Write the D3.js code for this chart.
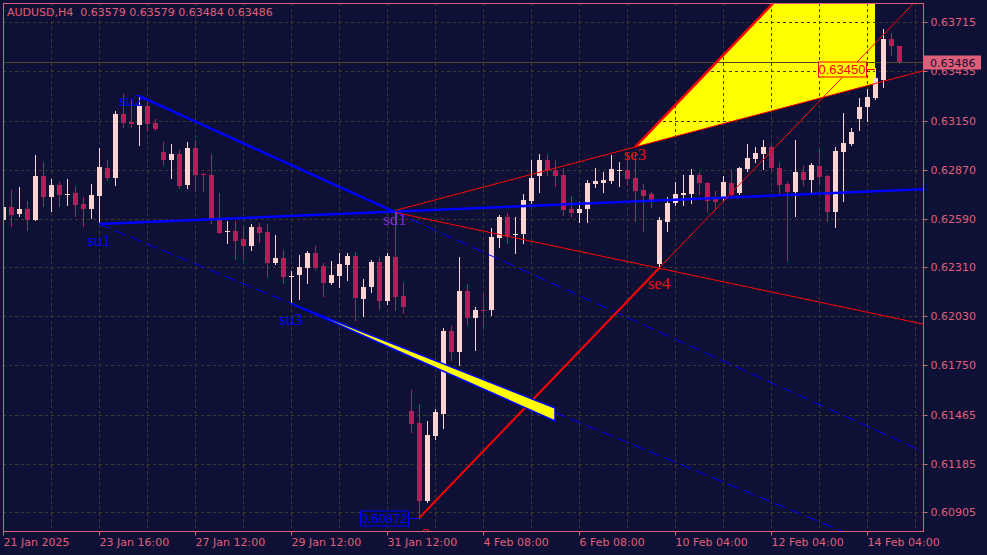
<!DOCTYPE html>
<html><head><meta charset="utf-8">
<script src="https://cdn.jsdelivr.net/npm/d3@7/dist/d3.min.js"></script>
<style>body{margin:0;background:#0e1036;}svg{display:block}</style>
</head><body>
<svg id="c" width="987" height="555"></svg>
<script>
// ---------------- DATA ----------------
const chartTitle = "AUDUSD,H4  0.63579 0.63579 0.63484 0.63486";
const timeLabels = ["21 Jan 2025","23 Jan 16:00","27 Jan 12:00","29 Jan 12:00","31 Jan 12:00","4 Feb 08:00","6 Feb 08:00","10 Feb 04:00","12 Feb 04:00","14 Feb 04:00"];
const timeLabelBars = [0,12,24,36,48,60,72,84,96,108];
const priceTicks = [0.63715,0.63435,0.63150,0.62870,0.62590,0.62310,0.62030,0.61750,0.61465,0.61185,0.60905];
const lastPrice = 0.63486;

const opens = [0.62581,0.62656,0.62616,0.62644,0.62581,0.62834,0.62713,0.62782,0.62725,0.62736,
0.62673,0.62644,0.62719,0.62880,0.62822,0.63189,0.63144,0.63126,0.63235,0.63138,
0.62972,0.62926,0.62960,0.62782,0.62994,0.62845,0.62840,0.62593,0.62518,0.62518,
0.62472,0.62432,0.62541,0.62513,0.62335,0.62363,0.62257,0.62266,0.62306,0.62392,
0.62317,0.62220,0.62260,0.62323,0.62375,0.62128,0.62197,0.62340,0.62117,0.62369,
0.62145,0.61486,0.61417,0.60970,0.61342,0.61469,0.61945,0.61824,0.62174,0.62019,
0.62065,0.62065,0.62478,0.62599,0.62498,0.62501,0.62690,0.62834,0.62926,0.62868,
0.62840,0.62644,0.62622,0.62644,0.62788,0.62794,0.62805,0.62865,0.62868,0.62822,
0.62754,0.62731,0.62329,0.62570,0.62679,0.62725,0.62731,0.62840,0.62794,0.62708,
0.62708,0.62794,0.62736,0.62874,0.62931,0.62960,0.63000,0.62880,0.62788,0.62740,
0.62857,0.62811,0.62891,0.62834,0.62627,0.62972,0.63017,0.63161,0.63230,0.63281,
0.63384,0.63620,0.63579];
const highs = [0.62754,0.62754,0.62771,0.62690,0.62954,0.62914,0.62817,0.62799,0.62817,0.62771,
0.62713,0.62788,0.62994,0.62926,0.63207,0.63304,0.63270,0.63293,0.63258,0.63161,
0.63029,0.63017,0.62983,0.63029,0.63040,0.62851,0.62960,0.62736,0.62576,0.62576,
0.62547,0.62558,0.62564,0.62558,0.62495,0.62409,0.62289,0.62381,0.62403,0.62432,
0.62335,0.62346,0.62392,0.62392,0.62398,0.62243,0.62352,0.62369,0.62392,0.62627,
0.62220,0.61606,0.61526,0.61428,0.61497,0.61962,0.61973,0.62369,0.62214,0.62082,
0.62157,0.62535,0.62610,0.62622,0.62599,0.62731,0.62926,0.62960,0.62954,0.62926,
0.62880,0.62719,0.62685,0.62811,0.62880,0.62857,0.62954,0.62914,0.62972,0.62972,
0.62788,0.62742,0.62599,0.62713,0.62799,0.62840,0.62874,0.62857,0.62799,0.62748,
0.62834,0.62868,0.62885,0.63017,0.63000,0.63040,0.63012,0.62908,0.62799,0.63040,
0.62891,0.62908,0.62994,0.62840,0.63000,0.63195,0.63109,0.63281,0.63333,0.63453,
0.63677,0.63654,0.63579];
const lows = [0.62564,0.62547,0.62604,0.62524,0.62581,0.62662,0.62633,0.62662,0.62667,0.62604,
0.62547,0.62593,0.62558,0.62811,0.62782,0.63115,0.63115,0.63012,0.63098,0.63098,
0.62903,0.62822,0.62765,0.62765,0.62748,0.62748,0.62564,0.62507,0.62449,0.62358,
0.62358,0.62410,0.62455,0.62260,0.62329,0.62220,0.62103,0.62128,0.62220,0.62300,
0.62145,0.62214,0.62197,0.62237,0.62008,0.62031,0.62168,0.62071,0.62099,0.62065,
0.62048,0.61365,0.60872,0.60964,0.61325,0.61388,0.61778,0.61750,0.61985,0.61836,
0.61973,0.62036,0.62426,0.62449,0.62392,0.62449,0.62679,0.62742,0.62840,0.62776,
0.62610,0.62600,0.62570,0.62570,0.62771,0.62742,0.62794,0.62776,0.62782,0.62576,
0.62518,0.62656,0.62305,0.62518,0.62667,0.62667,0.62679,0.62731,0.62633,0.62650,
0.62696,0.62713,0.62731,0.62862,0.62914,0.62874,0.62868,0.62725,0.62352,0.62604,
0.62782,0.62736,0.62794,0.62576,0.62541,0.62690,0.63012,0.63098,0.63149,0.63275,
0.63344,0.63528,0.63484];
const closes = [0.62656,0.62610,0.62644,0.62581,0.62834,0.62713,0.62782,0.62725,0.62731,0.62667,
0.62644,0.62725,0.62885,0.62822,0.63189,0.63138,0.63132,0.63235,0.63132,0.63103,
0.62926,0.62960,0.62776,0.62994,0.62840,0.62842,0.62587,0.62507,0.62521,0.62461,
0.62432,0.62541,0.62507,0.62335,0.62363,0.62254,0.62260,0.62312,0.62392,0.62306,
0.62220,0.62266,0.62329,0.62375,0.62134,0.62197,0.62340,0.62117,0.62375,0.62140,
0.62082,0.61411,0.60970,0.61348,0.61480,0.61945,0.61824,0.62174,0.62019,0.62065,
0.62062,0.62484,0.62599,0.62484,0.62501,0.62696,0.62822,0.62926,0.62868,0.62834,
0.62639,0.62622,0.62644,0.62794,0.62805,0.62811,0.62874,0.62868,0.62817,0.62748,
0.62719,0.62696,0.62581,0.62679,0.62731,0.62736,0.62840,0.62794,0.62690,0.62685,
0.62799,0.62725,0.62880,0.62937,0.62966,0.63000,0.62880,0.62782,0.62740,0.62857,
0.62811,0.62897,0.62828,0.62627,0.62977,0.63023,0.63086,0.63230,0.63287,0.63396,
0.63620,0.63579,0.63486];

// trend-line anchors: [bar, price]
const maLine      = [[12,0.62558],[115,0.62758]];
const su2sd1Line  = [[17,0.63293],[49,0.62627]];
const su1su3Line  = [[12,0.62558],[36,0.62103]];
const sd1se3Line  = [[49,0.62636],[79,0.63000]];
const sd1se4Line  = [[49,0.62625],[82,0.62305]];
const se2se4Line  = [[52,0.60872],[82,0.62305]];
const upperTriangle = [[79,0.63000],[109,0.64433],[109,0.63364]];
const lowerTriangle = [[36,0.62103],[69,0.61503],[69,0.61429]];
const pointNames  = ["su1","su2","su3","sd1","se2","se3","se4"];
const pointBars   = [12,16,36,49,52,79,82];
const pointPrices = [0.62432,0.63235,0.61979,0.62553,0.60746,0.62926,0.62186];
const boxTexts  = ["0.63450","0.60872"];
const boxBars   = [109,52];
const boxPrices = [0.63450,0.60872];

// ---------------- DRAW ----------------
const W=987,H=555,L=3,R=923,T=3,B=531;
const BG="#0e1036", AXC="#e05f78", GRID="#3d3b2c", BULL="#fdd3d3", BEAR="#c2185b";
const x = d3.scaleLinear().domain([0,115]).range([L,R]);
const y = d3.scaleLinear().domain([0.60798,0.63826]).range([B,T]);
const svg = d3.select("#c");
svg.append("rect").attr("width",W).attr("height",H).attr("fill",BG);
svg.append("defs").append("clipPath").attr("id","plot").append("rect")
  .attr("x",L).attr("y",T).attr("width",R-L).attr("height",B-T);
const plot = svg.append("g").attr("clip-path","url(#plot)");

const pt = d=>[x(d[0]),y(d[1])];
const extend = (a,b,bar)=>[bar, a[1]+(b[1]-a[1])*(bar-a[0])/(b[0]-a[0])];

// upper yellow triangle (background)
plot.append("path").attr("d",d3.line()(upperTriangle.map(pt))+"Z").attr("fill","#ffff00");

// grid
plot.selectAll(".vg").data(d3.range(6,116,6)).join("line")
  .attr("x1",d=>Math.round(x(d))+0.5).attr("x2",d=>Math.round(x(d))+0.5)
  .attr("y1",T).attr("y2",B).attr("stroke",GRID).attr("stroke-dasharray","3,3");
plot.selectAll(".hg").data(priceTicks).join("line")
  .attr("x1",L).attr("x2",R).attr("y1",d=>Math.round(y(d))+0.5).attr("y2",d=>Math.round(y(d))+0.5)
  .attr("stroke",GRID).attr("stroke-dasharray","3,3");

// bid line
plot.append("line").attr("x1",L).attr("x2",R)
  .attr("y1",Math.round(y(lastPrice))+0.5).attr("y2",Math.round(y(lastPrice))+0.5)
  .attr("stroke","#4f4530").attr("stroke-width",1);

// candles
const bars = opens.map((o,i)=>({i,o,h:highs[i],l:lows[i],c:closes[i]}));
const cg = plot.append("g").attr("shape-rendering","crispEdges");
cg.selectAll(".wick").data(bars).join("rect")
  .attr("x",d=>Math.round(x(d.i))).attr("width",1)
  .attr("y",d=>Math.round(y(d.h))).attr("height",d=>Math.max(1,Math.round(y(d.l))-Math.round(y(d.h))+1))
  .attr("fill",d=>d.c>=d.o?BULL:BEAR);
cg.selectAll(".body").data(bars).join("rect")
  .attr("x",d=>Math.round(x(d.i))-2).attr("width",5)
  .attr("y",d=>Math.round(y(Math.max(d.o,d.c))))
  .attr("height",d=>Math.max(1,Math.round(y(Math.min(d.o,d.c)))-Math.round(y(Math.max(d.o,d.c)))))
  .attr("fill",d=>d.c>=d.o?BULL:BEAR);

// lines
const seg = (a,b,color,w,dash)=>{
  const l = plot.append("line").attr("x1",x(a[0])).attr("y1",y(a[1])).attr("x2",x(b[0])).attr("y2",y(b[1]))
    .attr("stroke",color).attr("stroke-width",w);
  if(dash) l.attr("stroke-dasharray",dash);
};
seg(maLine[0],maLine[1],"#0000ff",2.5);
seg(su2sd1Line[0],su2sd1Line[1],"#0000ff",2.5);
seg(su2sd1Line[1],extend(su2sd1Line[0],su2sd1Line[1],116),"#0000ff",1,"12,5");
seg(su1su3Line[0],extend(su1su3Line[0],su1su3Line[1],116),"#0000ff",1,"12,5");
seg(sd1se3Line[0],extend(sd1se3Line[0],sd1se3Line[1],116),"#ff0000",1);
seg(sd1se4Line[0],extend(sd1se4Line[0],sd1se4Line[1],116),"#ff0000",1);
seg(se2se4Line[0],se2se4Line[1],"#ff0000",2);
seg(se2se4Line[1],extend(se2se4Line[0],se2se4Line[1],116),"#ff0000",1);
seg(upperTriangle[0],upperTriangle[1],"#ff0000",2.5);

// lower yellow triangle
plot.append("path").attr("d",d3.line()(lowerTriangle.map(pt))+"Z")
  .attr("fill","#ffff00").attr("stroke","#0000ff").attr("stroke-width",1.5);

// point labels
plot.selectAll(".pl").data(pointNames).join("text")
  .attr("x",(d,i)=>x(pointBars[i])).attr("y",(d,i)=>y(pointPrices[i]))
  .attr("text-anchor","middle").attr("font-family","'Liberation Serif',serif").attr("font-size",17)
  .attr("fill",d=>d.startsWith("su")?"#0000ff":(d==="sd1"?"#7b2fd6":"#ee1111"))
  .text(d=>d);

// price boxes
boxTexts.forEach((t,i)=>{
  const px = x(boxBars[i]), py = Math.round(y(boxPrices[i]))+0.5;
  const col = i===0?"#ff0000":"#0000ff";
  const bw=48,bh=15, gap = i===0?9:11;
  plot.append("line").attr("x1",px-gap).attr("x2",px).attr("y1",py).attr("y2",py).attr("stroke",col);
  plot.append("rect").attr("x",px-gap-bw+0.5).attr("y",py-bh/2).attr("width",bw).attr("height",bh)
    .attr("fill",i===0?"#ffff00":BG).attr("stroke",col);
  plot.append("text").attr("x",px-gap-bw/2).attr("y",py+4.5).attr("text-anchor","middle")
    .attr("font-family","'Liberation Sans',sans-serif").attr("font-size",13).attr("fill",col).text(t);
});

// frame
svg.append("rect").attr("x",L+0.5).attr("y",T+0.5).attr("width",R-L).attr("height",B-T)
  .attr("fill","none").attr("stroke",AXC);

// axes
const ay = svg.append("g").attr("transform",`translate(${R+0.5},0)`)
  .call(d3.axisRight(y).tickValues(priceTicks).tickSize(4).tickPadding(3).tickFormat(d3.format(".5f")));
const ax = svg.append("g").attr("transform",`translate(0,${B+0.5})`)
  .call(d3.axisBottom(x).tickValues(timeLabelBars).tickSize(4).tickPadding(3).tickFormat((d,i)=>timeLabels[i]));
[ay,ax].forEach(g=>{
  g.select(".domain").remove();
  g.selectAll("line").attr("stroke",AXC);
  g.selectAll("text").attr("fill",AXC).attr("font-family","'DejaVu Sans',sans-serif").attr("font-size",11);
});
ax.selectAll(".tick").attr("transform",d=>`translate(${Math.round(x(d))+0.5},0)`);
ay.selectAll(".tick").attr("transform",d=>`translate(0,${Math.round(y(d))+0.5})`);
ax.selectAll("text").attr("text-anchor","start").attr("x",0);

// last price box
const ly = Math.round(y(lastPrice))+0.5;
svg.append("rect").attr("x",R+1).attr("y",ly-7).attr("width",57).attr("height",14).attr("fill",AXC);
svg.append("text").attr("x",R+7).attr("y",ly+4).attr("font-family","'DejaVu Sans',sans-serif")
  .attr("font-size",11).attr("fill",BG).text(d3.format(".5f")(lastPrice));

// title
svg.append("text").attr("x",7).attr("y",16).attr("font-family","'DejaVu Sans',sans-serif")
  .attr("font-size",11).attr("fill",AXC).style("white-space","pre").text(chartTitle);
</script>
</body></html>
